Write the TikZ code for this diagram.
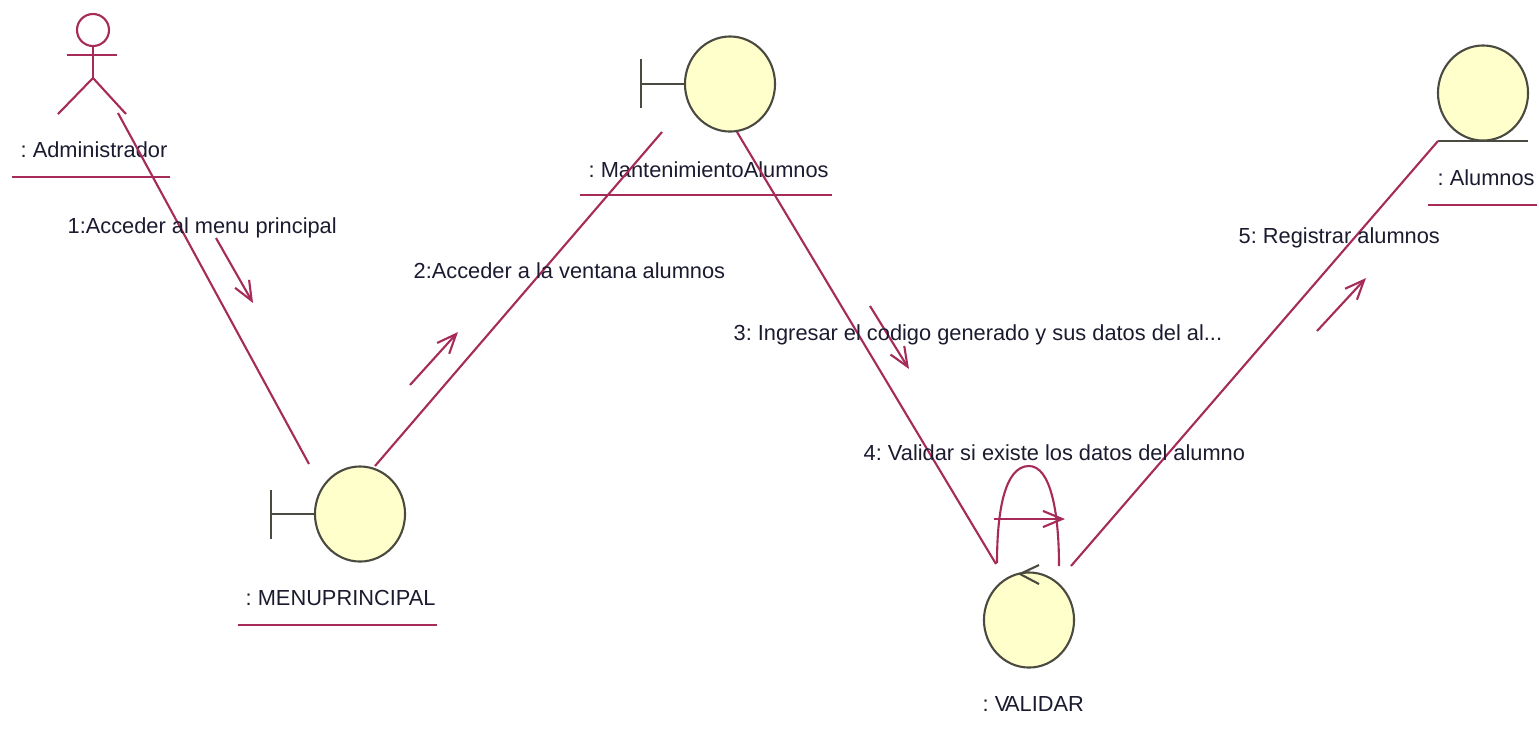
\documentclass[tikz,border=0pt]{standalone}
\usepackage{fontspec}
\setmainfont{Liberation Sans}
\usepackage{color,xcolor}
\usepackage{pgf,tikz}
\usetikzlibrary{shapes,arrows.meta}
\definecolor{linkred}{HTML}{A62B58}
\definecolor{objfill}{HTML}{FFFFCC}
\definecolor{objline}{HTML}{4A4A40}
\definecolor{txtdark}{HTML}{1B1B30}
\frenchspacing
\tikzset{
  object/.style={ellipse,draw=objline,fill=objfill,line width=0.6pt,inner sep=0pt,minimum width=0.9cm,minimum height=0.95cm},
  link/.style={linkred,line width=0.6pt},
  objedge/.style={objline,line width=0.6pt},
  msg/.style={link,-{Straight Barb[length=5.5pt,width=4.6pt]}},
  lbl/.style={anchor=west,inner sep=0pt,text=txtdark,font=\fontsize{6.2}{7}\selectfont}
}
\begin{document}
\begin{tikzpicture}[x=0.01cm,y=-0.01cm]
\useasboundingbox (0,0) rectangle (1539,729);
% actor
\node[circle,draw=linkred,line width=0.6pt,inner sep=0pt,minimum size=0.32cm] (adminhead) at (93,30) {};
\coordinate (adminhip) at (93,78);
\draw[link] (adminhead.south) -- (adminhip);
\draw[link] (67,55) -- (117,55);
\draw[link] (58,114) -- (adminhip) -- (126,114);
\node[lbl] (adminlbl) at (20,150) {: Administrador};
\draw[link] (12,177) -- (170,177);
% objects
\node[object] (menu) at (360,514) {};
\draw[objedge] (271,514) -- (menu.west);
\draw[objedge] (271,490) -- (271,539);
\node[lbl] (menulbl) at (245,598) {: MENUPRINCIPAL};
\draw[link] (238,625) -- (437,625);
\node[object] (mant) at (730,84) {};
\draw[objedge] (641,84) -- (mant.west);
\draw[objedge] (641,59) -- (641,108);
\node[lbl] (mantlbl) at (588,170) {: MantenimientoAlumnos};
\draw[link] (580,195) -- (832,195);
\node[object] (alum) at (1483,93) {};
\draw[objedge] (1438,141) -- (1528,141);
\node[lbl] (alumlbl) at (1437,178) {: Alumnos};
\draw[link] (1428,205) -- (1537,205);
\node[object] (valid) at (1029,620) {};
\node[lbl] (validlbl) at (982,704) {: V\kern-1.2pt ALIDAR};
% links between objects
\draw[link] ([shift={(25,83)}]adminhead.center) -- ([shift={(-51,-50)}]menu.center);
\draw[link] ([shift={(15,-48)}]menu.center) -- ([shift={(-68,48)}]mant.center);
\draw[link] ([shift={(7,48)}]mant.center) -- ([shift={(-33,-56)}]valid.center);
\draw[link] ([shift={(42,-54)}]valid.center) -- ([shift={(-45,48)}]alum.center);
\draw[link] ([shift={(-32,-57)}]valid.center) .. controls (997,510) and (1005,466) .. (1029,466) .. controls (1050,466) and (1059,510) .. ([shift={(30,-54)}]valid.center);
% messages
\draw[msg] (216,238) -- (253,303);
\draw[msg] (410,385) -- (458,332);
\draw[msg] (870,306) -- (909,369);
\draw[msg] (1317,331) -- (1366,278);
\draw[msg] (994,519) -- (1065,519);
\draw[objedge] (1039,565) -- (1020,574) -- (1039,584);
\node[lbl] (msgone) at (67,228) {1:Acceder al menu principal};
\node[lbl] (msgtwo) at (413,271) {2:Acceder a la ventana alumnos};
\node[lbl] (msgthree) at (733,335) {3: Ingresar el codigo generado y sus datos del al...};
\node[lbl] (msgfour) at (863,453) {4: Validar si existe los datos del alumno};
\node[lbl] (msgfive) at (1238,238) {5: Registrar alumnos};
\end{tikzpicture}
\end{document}
